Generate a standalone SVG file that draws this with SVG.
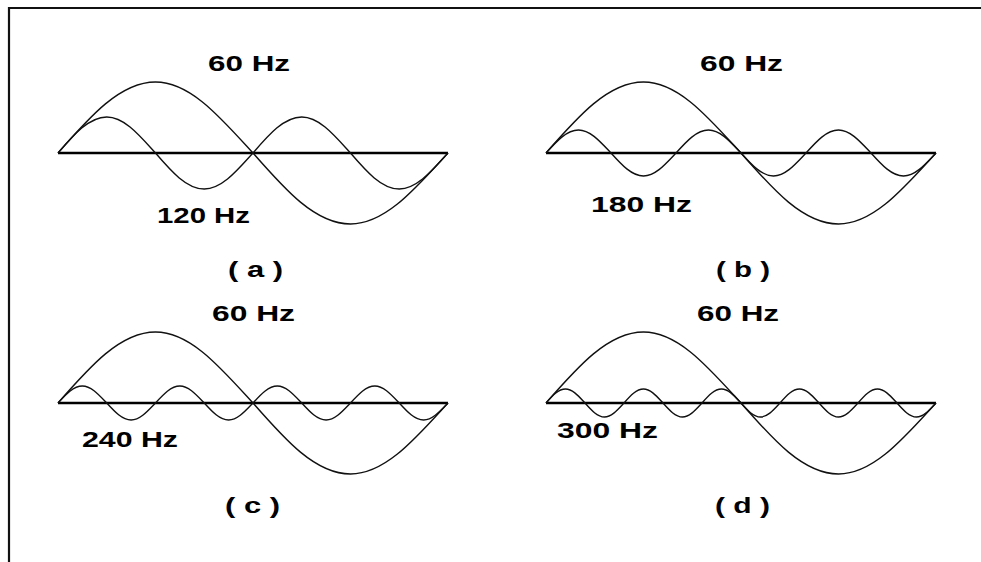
<svg xmlns="http://www.w3.org/2000/svg" width="981" height="562" viewBox="0 0 981 562">
<style>
.frame{fill:none;stroke:#111;stroke-width:2.2}
.axis{fill:none;stroke:#000;stroke-width:2.4}
.wave{fill:none;stroke:#111;stroke-width:1.4;stroke-linejoin:round}
.lbl{font-family:"Liberation Sans",Arial,sans-serif;font-weight:bold;font-size:22px;fill:#000}
</style>
<rect width="981" height="562" fill="#fff"/>
<path class="frame" d="M9,562 V8 H981"/>

<g id="panel-a">
<line class="axis" x1="58" y1="153" x2="448" y2="153"/>
<path class="wave" d="M58,153 c31.8,-36.37 62.21,-71 97.5,-71 c35.29,0 65.71,36.37 97.5,71 c31.8,36.37 62.21,71 97.5,71 c35.29,0 65.71,-36.37 97.5,-71"/>
<path class="wave" d="M58,153 c15.9,-18.44 31.11,-36 48.75,-36 c17.64,0 32.85,18.44 48.75,36 c15.9,18.44 31.11,36 48.75,36 c17.64,0 32.85,-18.44 48.75,-36 c15.9,-18.44 31.11,-36 48.75,-36 c17.64,0 32.85,18.44 48.75,36 c15.9,18.44 31.11,36 48.75,36 c17.64,0 32.85,-18.44 48.75,-36"/>
<text class="lbl" x="208" y="71" textLength="82" lengthAdjust="spacingAndGlyphs">60 Hz</text>
<text class="lbl" x="157" y="223" textLength="93" lengthAdjust="spacingAndGlyphs">120 Hz</text>
<text class="lbl" x="228" y="277" textLength="55" lengthAdjust="spacingAndGlyphs">( a )</text>
</g>

<g id="panel-b">
<line class="axis" x1="546" y1="153" x2="936" y2="153"/>
<path class="wave" d="M546,153 c31.8,-36.37 62.21,-71 97.5,-71 c35.29,0 65.71,36.37 97.5,71 c31.8,36.37 62.21,71 97.5,71 c35.29,0 65.71,-36.37 97.5,-71"/>
<path class="wave" d="M546,153 c10.6,-11.78 20.74,-23 32.5,-23 c11.76,0 21.9,11.78 32.5,23 c10.6,11.78 20.74,23 32.5,23 c11.76,0 21.9,-11.78 32.5,-23 c10.6,-11.78 20.74,-23 32.5,-23 c11.76,0 21.9,11.78 32.5,23 c10.6,11.78 20.74,23 32.5,23 c11.76,0 21.9,-11.78 32.5,-23 c10.6,-11.78 20.74,-23 32.5,-23 c11.76,0 21.9,11.78 32.5,23 c10.6,11.78 20.74,23 32.5,23 c11.76,0 21.9,-11.78 32.5,-23"/>
<text class="lbl" x="700" y="71" textLength="83" lengthAdjust="spacingAndGlyphs">60 Hz</text>
<text class="lbl" x="591" y="212" textLength="101" lengthAdjust="spacingAndGlyphs">180 Hz</text>
<text class="lbl" x="716" y="277" textLength="54" lengthAdjust="spacingAndGlyphs">( b )</text>
</g>

<g id="panel-c">
<line class="axis" x1="58" y1="403" x2="448" y2="403"/>
<path class="wave" d="M58,403 c31.8,-36.37 62.21,-71 97.5,-71 c35.29,0 65.71,36.37 97.5,71 c31.8,36.37 62.21,71 97.5,71 c35.29,0 65.71,-36.37 97.5,-71"/>
<path class="wave" d="M58,403 c7.95,-8.71 15.55,-17 24.375,-17 c8.82,0 16.43,8.71 24.375,17 c7.95,8.71 15.55,17 24.375,17 c8.82,0 16.43,-8.71 24.375,-17 c7.95,-8.71 15.55,-17 24.375,-17 c8.82,0 16.43,8.71 24.375,17 c7.95,8.71 15.55,17 24.375,17 c8.82,0 16.43,-8.71 24.375,-17 c7.95,-8.71 15.55,-17 24.375,-17 c8.82,0 16.43,8.71 24.375,17 c7.95,8.71 15.55,17 24.375,17 c8.82,0 16.43,-8.71 24.375,-17 c7.95,-8.71 15.55,-17 24.375,-17 c8.82,0 16.43,8.71 24.375,17 c7.95,8.71 15.55,17 24.375,17 c8.82,0 16.43,-8.71 24.375,-17"/>
<text class="lbl" x="212" y="321" textLength="83" lengthAdjust="spacingAndGlyphs">60 Hz</text>
<text class="lbl" x="82" y="447" textLength="96" lengthAdjust="spacingAndGlyphs">240 Hz</text>
<text class="lbl" x="225" y="513" textLength="55" lengthAdjust="spacingAndGlyphs">( c )</text>
</g>

<g id="panel-d">
<line class="axis" x1="546" y1="403" x2="936" y2="403"/>
<path class="wave" d="M546,403 c31.8,-36.37 62.21,-71 97.5,-71 c35.29,0 65.71,36.37 97.5,71 c31.8,36.37 62.21,71 97.5,71 c35.29,0 65.71,-36.37 97.5,-71"/>
<path class="wave" d="M546,403 c6.36,-7.17 12.44,-14 19.5,-14 c7.06,0 13.14,7.17 19.5,14 c6.36,7.17 12.44,14 19.5,14 c7.06,0 13.14,-7.17 19.5,-14 c6.36,-7.17 12.44,-14 19.5,-14 c7.06,0 13.14,7.17 19.5,14 c6.36,7.17 12.44,14 19.5,14 c7.06,0 13.14,-7.17 19.5,-14 c6.36,-7.17 12.44,-14 19.5,-14 c7.06,0 13.14,7.17 19.5,14 c6.36,7.17 12.44,14 19.5,14 c7.06,0 13.14,-7.17 19.5,-14 c6.36,-7.17 12.44,-14 19.5,-14 c7.06,0 13.14,7.17 19.5,14 c6.36,7.17 12.44,14 19.5,14 c7.06,0 13.14,-7.17 19.5,-14 c6.36,-7.17 12.44,-14 19.5,-14 c7.06,0 13.14,7.17 19.5,14 c6.36,7.17 12.44,14 19.5,14 c7.06,0 13.14,-7.17 19.5,-14"/>
<text class="lbl" x="697" y="321" textLength="82" lengthAdjust="spacingAndGlyphs">60 Hz</text>
<text class="lbl" x="557" y="438" textLength="101" lengthAdjust="spacingAndGlyphs">300 Hz</text>
<text class="lbl" x="715" y="513" textLength="55" lengthAdjust="spacingAndGlyphs">( d )</text>
</g>
</svg>
